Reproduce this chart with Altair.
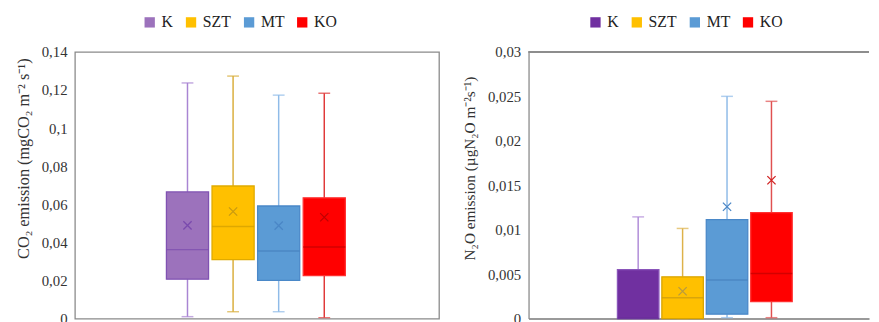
import altair as alt
import pandas as pd

groups = ["K", "SZT", "MT", "KO"]

# CO2 panel (mgCO2 m-2 s-1)
co2_min = [0.0010, 0.0036, 0.0036, 0.0005]
co2_q1 = [0.0207, 0.0310, 0.0200, 0.0226]
co2_median = [0.0362, 0.0483, 0.0355, 0.0376]
co2_q3 = [0.0665, 0.0696, 0.0591, 0.0634]
co2_max = [0.1237, 0.1273, 0.1173, 0.1183]
co2_mean = [0.0489, 0.0562, 0.0488, 0.0532]
co2_ticks = [0, 0.02, 0.04, 0.06, 0.08, 0.10, 0.12, 0.14]

# N2O panel (ugN2O m-2 s-1)
n2o_min = [0.0, 0.0, 0.0001, 0.0001]
n2o_q1 = [0.0, 0.0, 0.0005, 0.0019]
n2o_median = [0.0, 0.00234, 0.00433, 0.00506]
n2o_q3 = [0.0055, 0.0047, 0.01114, 0.01191]
n2o_max = [0.01144, 0.01014, 0.0250, 0.02444]
n2o_mean = [None, 0.00307, 0.01258, 0.01556]
n2o_ticks = [0, 0.005, 0.01, 0.015, 0.02, 0.025, 0.03]

# colours
co2_fill = ["#9C72BC", "#FFC000", "#5B9BD5", "#FF0000"]
co2_stroke = ["#8052B2", "#E0AA00", "#4A88C8", "#FF3030"]
co2_whisker = ["#A985D3", "#D9AE3C", "#8FBBE8", "#E03A3A"]
co2_med_c = ["#7A4AAE", "#D09E00", "#4580BE", "#C00000"]
co2_mean_c = ["#7A4AAE", "#C99A10", "#4A86C6", "#C00000"]

n2o_fill = ["#7030A0", "#FFC000", "#5B9BD5", "#FF0000"]
n2o_stroke = ["#8A55BA", "#D9A400", "#4A88C8", "#FF3030"]
n2o_whisker = ["#B08CD8", "#DDB24A", "#8FBBE8", "#E05050"]
n2o_med_c = ["#5E2890", "#C99A10", "#4580BE", "#C00000"]
n2o_mean_c = ["#5E2890", "#B89A40", "#4A86C6", "#D02020"]

FONT = "Liberation Serif"
TXT = "#333333"
FRAME = "#8A8A8A"


def frame(mins, q1, med, q3, maxs, means, fill, stroke, wh, medc, meanc):
    return pd.DataFrame({
        "group": groups, "min": mins, "q1": q1, "median": med, "q3": q3,
        "max": maxs, "mean": means, "sc": stroke, "wc": wh, "mdc": medc, "mnc": meanc,
    })


def panel(df, ticks, title, title_size, title_y, fills, width, n_pad_left, n_pad_right,
          pi, po, align, legend_x, full_frame):
    ymax = ticks[-1]
    yscale = alt.Scale(domain=[0, ymax], nice=False, zero=True)
    yaxis = alt.Axis(values=ticks, labelExpr="replace(format(datum.value, '.3~f'), '.', ',')",
                     grid=False, ticks=False, domain=not full_frame, domainColor=FRAME,
                     domainWidth=1.3, labelFont=FONT, labelFontSize=15, labelColor=TXT,
                     labelPadding=8, titleFont=FONT, titleFontSize=title_size, titleColor=TXT,
                     titleFontWeight="normal", titlePadding=10, titleY=title_y)
    xdomain = [" " * (i + 1) for i in range(n_pad_left)] + groups + \
              ["-" * (i + 1) for i in range(n_pad_right)]
    xscale = alt.Scale(domain=xdomain, paddingInner=pi, paddingOuter=po, align=align, round=False)
    if full_frame:
        xenc = alt.X("group:N", scale=xscale, axis=None)
    else:
        xenc = alt.X("group:N", scale=xscale, title=None,
                     axis=alt.Axis(labels=False, ticks=False, domain=True, domainColor="#9A9A9A",
                                   domainWidth=2))

    def Y(field):
        return alt.Y(field + ":Q", scale=yscale, axis=yaxis, title=title)

    base = alt.Chart(df)
    n = len(xdomain)
    bw = (width / (n - pi + 2 * po)) * (1 - pi)

    box = base.mark_bar(strokeWidth=1.3).encode(
        x=xenc, y=Y("q1"), y2="q3",
        fill=alt.Fill("group:N", scale=alt.Scale(domain=groups, range=fills),
                      legend=alt.Legend(title=None, orient="none", legendX=legend_x, legendY=-38,
                                        direction="horizontal", symbolType="square",
                                        symbolSize=110, symbolStrokeWidth=0, labelFont=FONT,
                                        labelFontSize=16, labelColor="#222222", columnPadding=10,
                                        labelOffset=4, padding=0)),
        stroke=alt.Stroke("sc:N", scale=None),
    )
    w_lo = base.mark_rule(strokeWidth=1.5).encode(x=xenc, y=Y("min"), y2="q1",
                                                  color=alt.Color("wc:N", scale=None))
    w_hi = base.mark_rule(strokeWidth=1.5).encode(x=xenc, y=Y("q3"), y2="max",
                                                  color=alt.Color("wc:N", scale=None))
    cap_lo = base.mark_tick(size=12, thickness=1.5).encode(x=xenc, y=Y("min"),
                                                          color=alt.Color("wc:N", scale=None))
    cap_hi = base.mark_tick(size=12, thickness=1.5).encode(x=xenc, y=Y("max"),
                                                          color=alt.Color("wc:N", scale=None))
    med = base.mark_tick(size=bw, thickness=1.5).encode(x=xenc, y=Y("median"),
                                                       color=alt.Color("mdc:N", scale=None))
    mean = base.mark_point(shape="M-1,-1L1,1M-1,1L1,-1", size=70, strokeWidth=1.3,
                           filled=False, opacity=1).encode(
        x=xenc, y=Y("mean"), color=alt.Color("mnc:N", scale=None))

    layers = [w_lo, w_hi, cap_lo, cap_hi, box, med, mean]
    if full_frame:
        view = alt.ViewBackground(stroke=FRAME, strokeWidth=1.3)
    else:
        top = alt.Chart(df).mark_rule(color="#8C8C8C", strokeWidth=1.5).encode(
            x=alt.value(0), x2=alt.value("width"), y=alt.value(0))
        layers.append(top)
        view = alt.ViewBackground(stroke="transparent")
    return alt.layer(*layers).properties(width=width, height=271, view=view)


co2_df = frame(co2_min, co2_q1, co2_median, co2_q3, co2_max, co2_mean,
               co2_fill, co2_stroke, co2_whisker, co2_med_c, co2_mean_c)
n2o_df = frame(n2o_min, n2o_q1, n2o_median, n2o_q3, n2o_max, n2o_mean,
               n2o_fill, n2o_stroke, n2o_whisker, n2o_med_c, n2o_mean_c)

left = panel(co2_df, co2_ticks, "CO₂ emission (mgCO₂ m⁻² s⁻¹)", 16.5, 108, co2_fill,
             370, 2, 2, 0.076, 0.031, 0.117, 68, True)
right = panel(n2o_df, n2o_ticks, "N₂O emission (µgN₂O m⁻²s⁻¹)", 15.5, 118, n2o_fill,
              346, 2, 1, 0.066, 0.3645, 0.0, 60, False)

chart = alt.hconcat(left, right, spacing=22).resolve_scale(
    fill="independent", y="independent", x="independent"
).properties(padding={"left": 7, "top": 3, "right": 0, "bottom": 0})

chart.save("out.html", embed_options={"renderer": "svg", "actions": False})
